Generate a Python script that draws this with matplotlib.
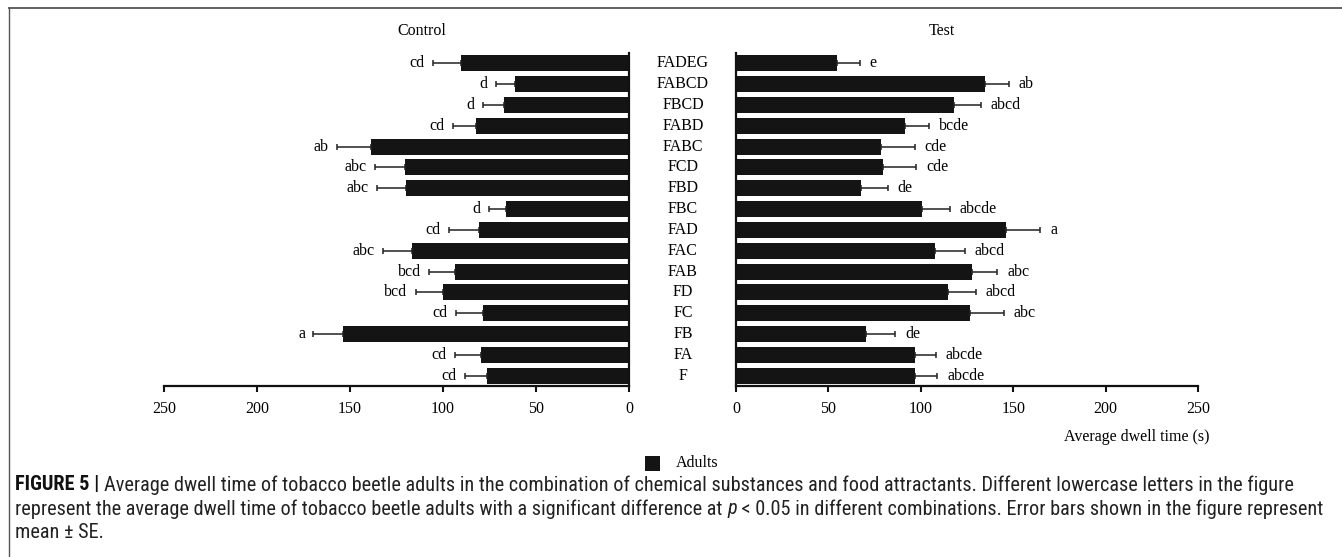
import matplotlib
matplotlib.use("Agg")
import matplotlib.pyplot as plt
from matplotlib import font_manager
from matplotlib.lines import Line2D
from matplotlib.patches import Rectangle
import matplotlib.transforms as mtransforms
import numpy as np

# ---------------- data ----------------
categories = ["FADEG", "FABCD", "FBCD", "FABD", "FABC", "FCD", "FBD", "FBC",
              "FAD", "FAC", "FAB", "FD", "FC", "FB", "FA", "F"]
control_mean = [90.5, 61.1, 67.4, 82.3, 138.9, 120.6, 119.9, 66.1,
                80.8, 116.7, 93.4, 100.2, 78.3, 153.9, 79.4, 76.5]
control_se = [14.9, 10.6, 11.3, 12.5, 18.3, 16.0, 15.8, 9.2,
              16.0, 15.7, 14.0, 14.5, 14.7, 15.8, 14.0, 11.8]
control_letters = ["cd", "d", "d", "cd", "ab", "abc", "abc", "d",
                   "cd", "abc", "bcd", "bcd", "cd", "a", "cd", "cd"]
test_mean = [54.9, 134.5, 117.8, 91.7, 78.6, 79.5, 67.6, 100.9,
             146.0, 107.9, 127.5, 114.6, 126.6, 70.3, 96.9, 96.6]
test_se = [12.2, 13.3, 14.8, 13.0, 18.2, 18.0, 14.6, 14.9,
           18.7, 16.0, 14.0, 15.3, 18.5, 15.9, 11.2, 12.4]
test_letters = ["e", "ab", "abcd", "bcde", "cde", "cde", "de", "abcde",
                "a", "abcd", "abc", "abcd", "abc", "de", "abcde", "abcde"]
xticks = [0, 50, 100, 150, 200, 250]

caption_lines = [
    [("FIGURE 5 | ", "bold", "normal"),
     ("Average dwell time of tobacco beetle adults in the combination of chemical substances and food attractants. "
      "Different lowercase letters in the figure", "normal", "normal")],
    [("represent the average dwell time of tobacco beetle adults with a significant difference at ", "normal", "normal"),
     ("p", "normal", "italic"),
     (" < 0.05 in different combinations. Error bars shown in the figure represent", "normal", "normal")],
    [("mean \u00b1 SE.", "normal", "normal")],
]

# ---------------- style ----------------
W, H = 1342, 557
serif = "Liberation Serif"
fs = 11.5
bar_color = "#141414"

fig = plt.figure(figsize=(W / 100, H / 100), dpi=100)
fig.patch.set_facecolor("white")

def fx(px):
    return px / W

def fy(py):
    return 1 - py / H

ax_bottom, ax_top = 386, 53
axL = fig.add_axes([fx(164), fy(ax_bottom), fx(629) - fx(164), fy(ax_top) - fy(ax_bottom)])
axR = fig.add_axes([fx(736), fy(ax_bottom), fx(1198) - fx(736), fy(ax_top) - fy(ax_bottom)])

n = len(categories)
ypos = np.arange(n)[::-1]  # first category on top

for ax, mean, se, letters, side in [
    (axL, control_mean, control_se, control_letters, "left"),
    (axR, test_mean, test_se, test_letters, "right"),
]:
    ax.barh(ypos, mean, height=0.77, color=bar_color, edgecolor="none", zorder=2)
    ax.errorbar(mean, ypos, xerr=[np.zeros(n), se], fmt="none", ecolor="#222222",
                elinewidth=1.1, capsize=2.5, capthick=1.1, zorder=3)
    ax.set_xlim(0, 250)
    ax.set_ylim(-0.5, 15.5)
    ax.set_xticks(xticks)
    ax.set_xticklabels([str(t) for t in xticks], fontfamily=serif, fontsize=fs)
    ax.set_yticks([])
    ax.tick_params(axis="x", direction="out", length=4, width=1.5, pad=7, color="#111111")
    ax.spines["top"].set_visible(False)
    ax.spines["bottom"].set_linewidth(1.6)
    ax.spines["bottom"].set_color("#111111")
    if side == "left":
        ax.invert_xaxis()
        ax.spines["left"].set_visible(False)
        ax.spines["right"].set_linewidth(1.6)
        ax.spines["right"].set_color("#111111")
        off, ha = -6, "right"
    else:
        ax.spines["right"].set_visible(False)
        ax.spines["left"].set_linewidth(1.6)
        ax.spines["left"].set_color("#111111")
        off, ha = 7, "left"
    for m, s, lab, yy in zip(mean, se, letters, ypos):
        ax.annotate(lab, xy=(m + s, yy), xytext=(off, 0), textcoords="offset points",
                    ha=ha, va="center", fontfamily=serif, fontsize=fs)

# category labels between the panels
trans = mtransforms.blended_transform_factory(fig.transFigure, axR.transData)
for cat, yy in zip(categories, ypos):
    fig.text(fx(683), yy, cat, transform=trans, ha="center", va="center",
             fontfamily=serif, fontsize=fs)

# panel titles
fig.text(fx(422), fy(31), "Control", ha="center", va="center", fontfamily=serif, fontsize=fs)
fig.text(fx(942), fy(31), "Test", ha="center", va="center", fontfamily=serif, fontsize=fs)

# x axis label
fig.text(fx(1209), fy(437), "Average dwell time (s)", ha="right", va="center",
         fontfamily=serif, fontsize=fs)

# legend
fig.patches.append(Rectangle((fx(645), fy(471)), fx(15), 15 / H, transform=fig.transFigure,
                             facecolor=bar_color, edgecolor="none"))
fig.text(fx(676), fy(463), "Adults", ha="left", va="center", fontfamily=serif, fontsize=fs)

# frame lines
fig.lines.append(Line2D([fx(9), 1], [fy(8), fy(8)], transform=fig.transFigure,
                        color="#555555", linewidth=1.3))
fig.lines.append(Line2D([fx(9), fx(9)], [fy(8), 0], transform=fig.transFigure,
                        color="#555555", linewidth=1.0))

# caption font: prefer a condensed sans if one is installed
ttf = font_manager.fontManager.ttflist
names = {f.name for f in ttf}
cap_family, cap_stretch = "Liberation Sans", "normal"
for cand in ["Liberation Sans Narrow", "Arial Narrow", "Roboto Condensed",
             "Open Sans Condensed", "Noto Sans Condensed", "DejaVu Sans Condensed"]:
    if cand in names:
        cap_family = cand
        break
else:
    for fam in ["Noto Sans", "Open Sans", "DejaVu Sans", "Roboto"]:
        hits = [f for f in ttf if f.name == fam and f.stretch in ("condensed", "semi-condensed")
                and f.style == "normal"]
        if hits:
            cap_family, cap_stretch = fam, hits[0].stretch
            break

renderer = fig.canvas.get_renderer()

def measure(runs, size):
    w = 0
    for txt, weight, style in runs:
        t = fig.text(0, 0, txt, fontfamily=cap_family, fontstretch=cap_stretch, fontsize=size,
                     fontweight=weight, fontstyle=style)
        w += t.get_window_extent(renderer).width
        t.remove()
    return w

target = 1325 - 15
cap_fs = 10.0 * target / measure(caption_lines[1], 10.0)
for _ in range(3):
    cap_fs *= target / measure(caption_lines[1], cap_fs)

line_y = [485, 509, 533]
for runs, ly in zip(caption_lines, line_y):
    x = 15
    for txt, weight, style in runs:
        color = "#111111" if weight == "bold" else "#222222"
        t = fig.text(fx(x), fy(ly), txt, fontfamily=cap_family, fontstretch=cap_stretch,
                     fontsize=cap_fs, fontweight=weight, fontstyle=style,
                     va="center", ha="left", color=color)
        x += t.get_window_extent(renderer).width

fig.savefig("out.png", dpi=100, facecolor="white")
